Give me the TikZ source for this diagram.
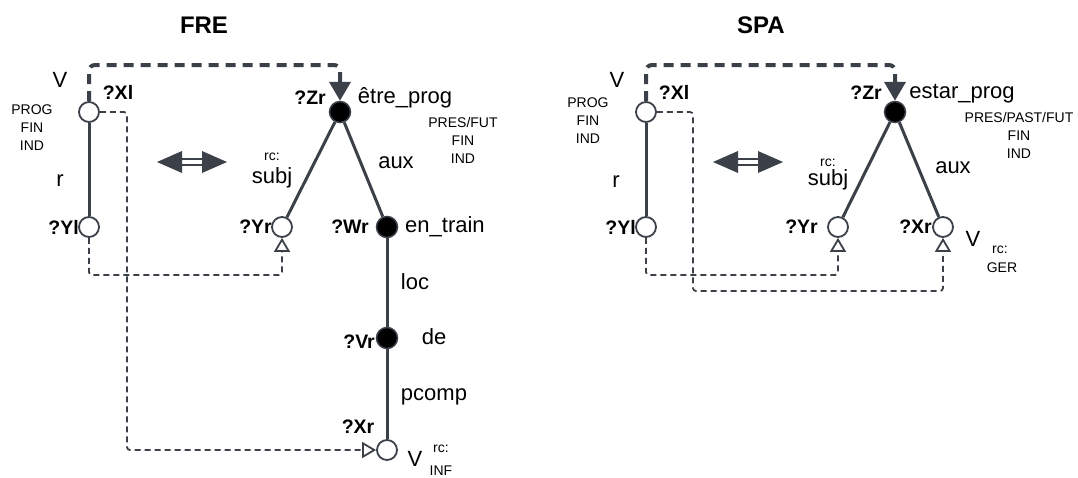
\documentclass[tikz,border=0pt]{standalone}
\usepackage{fontspec}
\setmainfont{Liberation Sans}
\usetikzlibrary{arrows.meta}
\definecolor{dc}{HTML}{3B4049}
\tikzset{
  onode/.style={circle,draw=dc,fill=white,line width=1.8pt,minimum size=20pt,inner sep=0pt},
  fnode/.style={circle,draw=dc,fill=black,line width=1.5pt,minimum size=21pt,inner sep=0pt},
  edge/.style={draw=dc,line width=3pt},
  thickdash/.style={draw=dc,line width=4pt,dash pattern=on 10pt off 7pt,rounded corners=6pt,-{Triangle[length=19pt,width=21pt]}},
  thindash/.style={draw=dc,line width=1.8pt,dash pattern=on 6pt off 4pt,rounded corners=3pt,-{Triangle[open,length=14pt,width=16pt,line width=1.8pt]}},
  lab/.style={font=\fontsize{22}{25}\selectfont,inner sep=0pt},
  blab/.style={font=\fontsize{19.5}{22}\selectfont\bfseries,inner sep=0pt},
  slab/.style={font=\fontsize{14}{18}\selectfont,inner sep=0pt,align=center},
  ttl/.style={font=\fontsize{24}{28}\selectfont\bfseries,inner sep=0pt},
  dshaft/.style={draw=dc,line width=2.6pt},
}
\begin{document}
\begin{tikzpicture}[x=1pt,y=-1pt]
\useasboundingbox (0,0) rectangle (1078,477);
% ===== FRE =====
\node[ttl] (tf) at (204,25) {FRE};
\node[onode] (fXl) at (89,112) {};
\node[onode] (fYl) at (89,227) {};
\node[fnode] (fZr) at (340,112) {};
\node[onode] (fYr) at (282,227) {};
\node[fnode] (fWr) at (387,227) {};
\node[fnode] (fVr) at (387,338) {};
\node[onode] (fXr) at (387,450) {};
\draw[edge] (fXl) -- (fYl);
\draw[edge] (fZr) -- (fYr);
\draw[edge] (fZr) -- (fWr);
\draw[edge] (fWr) -- (fVr);
\draw[edge] (fVr) -- (fXr);
\draw[thickdash] (fXl.north) |- (340,65) -- (fZr.north);
\draw[thindash] (fYl.south) |- (282,275) -- (fYr.south);
\draw[thindash] (fXl.east) -| (127,450) -- (fXr.west);
\node[lab] (fV) at (60,80) {V};
\node[blab] (fXlt) at (118,92) {?Xl};
\node[slab] (fprog) at (32,128) {PROG\\FIN\\IND};
\node[lab] (fr) at (60,181) {r};
\node[blab,anchor=east] (fYlt) at (79,227) {?Yl};
\node[blab,anchor=east] (fZrt) at (326,98) {?Zr};
\node[lab] (fetre) at (405,98) {être\_prog};
\node[slab] (fpres) at (463,140) {PRES/FUT\\FIN\\IND};
\node[slab] (frc) at (272,157) {rc:};
\node[lab] (fsubj) at (272,178) {subj};
\node[lab] (faux) at (396,163) {aux};
\node[blab,anchor=east] (fYrt) at (272,227) {?Yr};
\node[blab,anchor=east] (fWrt) at (369,227) {?Wr};
\node[lab,anchor=west] (fent) at (405,227) {en\_train};
\node[lab] (floc) at (415,282) {loc};
\node[blab,anchor=east] (fVrt) at (375,342) {?Vr};
\node[lab] (fde) at (434,337) {de};
\node[lab] (fpc) at (434,397) {pcomp};
\node[blab] (fXrt) at (358,427) {?Xr};
\node[lab] (fV2) at (415,459) {V};
\node[slab] (frc2) at (441,449) {rc:};
\node[slab] (finf) at (441,471) {INF};
% double arrow FRE
\coordinate (fa1) at (157,162);
\coordinate (fa2) at (227,162);
\fill[dc] (fa1) -- ++(25,-11) -- ++(0,22) -- cycle;
\fill[dc] (fa2) -- ++(-25,-11) -- ++(0,22) -- cycle;
\draw[dshaft] ([shift={(20,-3)}]fa1) -- ([shift={(-20,-3)}]fa2);
\draw[dshaft] ([shift={(20,3)}]fa1) -- ([shift={(-20,3)}]fa2);
% ===== SPA =====
\node[ttl] (ts) at (761,25) {SPA};
\node[onode] (sXl) at (646,112) {};
\node[onode] (sYl) at (646,227) {};
\node[fnode] (sZr) at (895,112) {};
\node[onode] (sYr) at (838,227) {};
\node[onode] (sXr) at (943,227) {};
\draw[edge] (sXl) -- (sYl);
\draw[edge] (sZr) -- (sYr);
\draw[edge] (sZr) -- (sXr);
\draw[thickdash] (sXl.north) |- (895,65) -- (sZr.north);
\draw[thindash] (sYl.south) |- (838,275) -- (sYr.south);
\draw[thindash] (sXl.east) -| (693,291) -| (sXr.south);
\node[lab] (sV) at (617,80) {V};
\node[blab] (sXlt) at (674,92) {?Xl};
\node[slab] (sprog) at (588,121) {PROG\\FIN\\IND};
\node[lab] (sr) at (616,182) {r};
\node[blab,anchor=east] (sYlt) at (636,227) {?Yl};
\node[blab,anchor=east] (sZrt) at (882,93) {?Zr};
\node[lab] (sest) at (962,94) {estar\_prog};
\node[slab] (spres) at (1019,135) {PRES/PAST/FUT\\FIN\\IND};
\node[slab] (src) at (828,163) {rc:};
\node[lab] (ssubj) at (828,180) {subj};
\node[lab] (saux) at (953,168) {aux};
\node[blab,anchor=east] (sYrt) at (818,227) {?Yr};
\node[blab,anchor=east] (sXrt) at (932,227) {?Xr};
\node[lab] (sV2) at (973,239) {V};
\node[slab] (src2) at (1000,250) {rc:};
\node[slab] (sger) at (1002,268) {GER};
% double arrow SPA
\coordinate (sa1) at (713,162);
\coordinate (sa2) at (783,162);
\fill[dc] (sa1) -- ++(25,-11) -- ++(0,22) -- cycle;
\fill[dc] (sa2) -- ++(-25,-11) -- ++(0,22) -- cycle;
\draw[dshaft] ([shift={(20,-3)}]sa1) -- ([shift={(-20,-3)}]sa2);
\draw[dshaft] ([shift={(20,3)}]sa1) -- ([shift={(-20,3)}]sa2);
\end{tikzpicture}
\end{document}
